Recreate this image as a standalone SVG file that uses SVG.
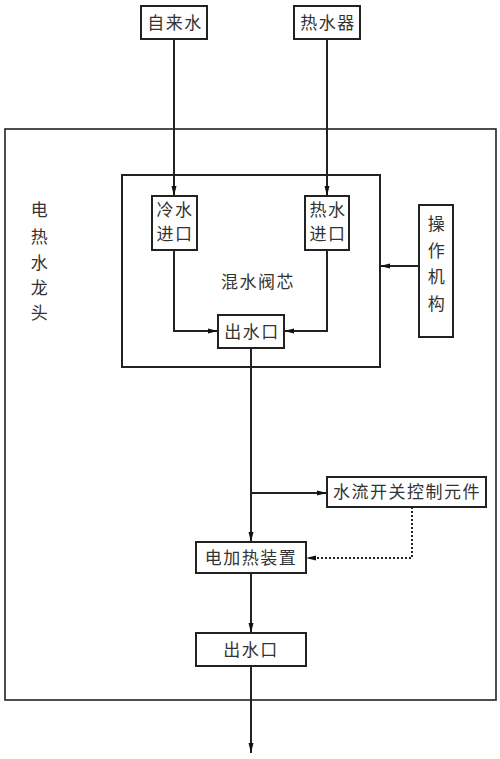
<svg xmlns="http://www.w3.org/2000/svg" width="500" height="759" viewBox="0 0 500 759">
<style>
.box{fill:#fff;stroke:#222;stroke-width:2}
.frame{fill:none;stroke:#222;stroke-width:1.6}
.ln{fill:none;stroke:#222;stroke-width:2}
.dot{fill:none;stroke:#222;stroke-width:2;stroke-dasharray:2 2}
text{font-family:"Noto Sans CJK SC","Liberation Sans",sans-serif;font-size:17px;fill:#333;text-anchor:middle;letter-spacing:1.5px}
</style>
<defs>
<marker id="ah" viewBox="0 0 10 6" refX="10" refY="3" markerWidth="10" markerHeight="6" markerUnits="userSpaceOnUse" orient="auto">
<path d="M0,0.5 L10,3 L0,5.5 Z" fill="#111"/>
</marker>
</defs>
<g id="faucet">
<rect class="frame" x="5" y="129" width="491" height="571"/>
<text x="40" y="216">电</text>
<text x="40" y="243">热</text>
<text x="40" y="269">水</text>
<text x="40" y="294">龙</text>
<text x="40" y="319">头</text>
</g>
<g id="valve">
<rect class="box" x="122" y="175" width="258" height="192"/>
<text x="258" y="288">混水阀芯</text>
</g>
<g id="connectors">
<path class="ln" d="M174,39 V196" marker-end="url(#ah)"/>
<path class="ln" d="M327,39 V196" marker-end="url(#ah)"/>
<path class="ln" d="M174,250 V331 H218" marker-end="url(#ah)"/>
<path class="ln" d="M327,250 V331 H284" marker-end="url(#ah)"/>
<path class="ln" d="M419,266 H380" marker-end="url(#ah)"/>
<path class="ln" d="M251,348 V542" marker-end="url(#ah)"/>
<path class="ln" d="M251,493 H327" marker-end="url(#ah)"/>
<path class="dot" d="M412,507 V558 H306" marker-end="url(#ah)"/>
<path class="ln" d="M251,573 V633" marker-end="url(#ah)"/>
<path class="ln" d="M251,666 V753" marker-end="url(#ah)"/>
</g>
<g id="tap"><rect class="box" x="141" y="6" width="66" height="33"/><text x="175" y="29">自来水</text></g>
<g id="heater"><rect class="box" x="294" y="6" width="66" height="33"/><text x="328" y="29">热水器</text></g>
<g id="cold-in"><rect class="box" x="152" y="196" width="45" height="54"/><text x="175" y="216">冷水</text><text x="175" y="240">进口</text></g>
<g id="hot-in"><rect class="box" x="305" y="196" width="44" height="54"/><text x="328" y="216">热水</text><text x="328" y="240">进口</text></g>
<g id="mix-out"><rect class="box" x="218" y="315" width="66" height="33"/><text x="252" y="338">出水口</text></g>
<g id="operator"><rect class="box" x="419" y="205" width="34" height="132"/><text x="437" y="230">操</text><text x="437" y="257">作</text><text x="437" y="283">机</text><text x="437" y="310">构</text></g>
<g id="flow-switch"><rect class="box" x="327" y="477" width="159" height="30"/><text x="407" y="498">水流开关控制元件</text></g>
<g id="elec-heater"><rect class="box" x="196" y="542" width="110" height="31"/><text x="251" y="564">电加热装置</text></g>
<g id="outlet"><rect class="box" x="196" y="633" width="110" height="33"/><text x="251" y="656">出水口</text></g>
</svg>
